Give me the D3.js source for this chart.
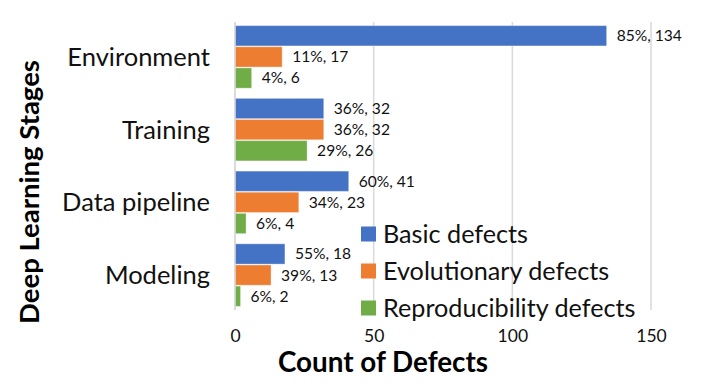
<!DOCTYPE html>
<html>
<head>
<meta charset="utf-8">
<script src="https://cdn.jsdelivr.net/npm/d3@7"></script>
<style>
  html, body { margin: 0; padding: 0; background: #fff; }
  svg { display: block; font-family: Lato, "Open Sans", sans-serif; }
</style>
</head>
<body>
<svg id="chart" width="706" height="391"></svg>
<script>
const categories = ["Environment", "Training", "Data pipeline", "Modeling"];
const seriesNames = ["Basic defects", "Evolutionary defects", "Reproducibility defects"];
const basicValues = [134, 32, 41, 18];
const evolutionaryValues = [17, 32, 23, 13];
const reproducibilityValues = [6, 26, 4, 2];
const basicPercents = ["85%", "36%", "60%", "55%"];
const evolutionaryPercents = ["11%", "36%", "34%", "39%"];
const reproducibilityPercents = ["4%", "29%", "6%", "6%"];
const xTicks = [0, 50, 100, 150];
const colors = ["#4472C4", "#ED7D31", "#70AD47"];

const values = [basicValues, evolutionaryValues, reproducibilityValues];
const percents = [basicPercents, evolutionaryPercents, reproducibilityPercents];

const svg = d3.select("#chart");
const plot = { left: 235, right: 651, top: 22, bottom: 310 };

const x = d3.scaleLinear().domain([0, 150]).range([plot.left, plot.right]);
const y = d3.scaleBand().domain(categories).range([plot.top, plot.bottom])
  .paddingInner(0.14).paddingOuter(0.05);
const ySub = d3.scaleBand().domain(d3.range(3)).range([0, y.bandwidth()]).paddingInner(0.04);

// gridlines
svg.append("g").selectAll("line").data(xTicks).join("line")
  .attr("x1", d => x(d)).attr("x2", d => x(d))
  .attr("y1", plot.top).attr("y2", plot.bottom)
  .attr("stroke", "#d9d9d9").attr("stroke-width", 1.5);

// bars
const groups = svg.append("g").selectAll("g").data(categories).join("g")
  .attr("transform", c => `translate(0,${y(c)})`);

groups.each(function(c, i) {
  const g = d3.select(this);
  for (let s = 0; s < 3; s++) {
    const v = values[s][i];
    g.append("rect")
      .attr("x", x(0))
      .attr("y", ySub(s))
      .attr("width", x(v) - x(0))
      .attr("height", ySub.bandwidth())
      .attr("fill", colors[s])
      .attr("stroke", "#ffffff").attr("stroke-opacity", 0.35).attr("stroke-width", 1);
    g.append("text")
      .attr("x", x(v) + 10)
      .attr("y", ySub(s) + ySub.bandwidth() / 2)
      .attr("dy", "0.35em")
      .attr("font-size", 15.6)
      .attr("fill", "#111")
      .text(`${percents[s][i]}, ${v}`);
  }
});

// y axis line
svg.append("line").attr("x1", x(0)).attr("x2", x(0))
  .attr("y1", plot.top).attr("y2", plot.bottom)
  .attr("stroke", "#d9d9d9").attr("stroke-width", 1.5);

// category labels
const yAxis = d3.axisLeft(y).tickSize(0).tickPadding(0);
const yg = svg.append("g").attr("transform", `translate(${210},0)`).call(yAxis);
yg.select(".domain").remove();
yg.selectAll("text").attr("font-size", 25.5).attr("font-family", "Lato, sans-serif").attr("fill", "#111")
  .attr("dy", "0.35em");

// x tick labels
const xAxis = d3.axisBottom(x).tickValues(xTicks).tickSize(0).tickPadding(0);
const xg = svg.append("g").attr("transform", `translate(0,${330})`).call(xAxis);
xg.select(".domain").remove();
xg.selectAll("text").attr("font-size", 17.5).attr("font-family", "Lato, sans-serif").attr("fill", "#111");

// axis titles
svg.append("text")
  .attr("x", 383).attr("y", 372)
  .attr("text-anchor", "middle")
  .attr("font-size", 27.8).attr("font-weight", "bold").attr("fill", "#000")
  .text("Count of Defects");

svg.append("text")
  .attr("transform", "translate(39,192) rotate(-90)")
  .attr("text-anchor", "middle")
  .attr("font-size", 27.5).attr("font-weight", "bold").attr("fill", "#000")
  .text("Deep Learning Stages");

// legend
const legendY = d3.scalePoint().domain(seriesNames).range([234, 308]);
const lg = svg.append("g").selectAll("g").data(seriesNames).join("g")
  .attr("transform", d => `translate(361,${legendY(d)})`);
lg.append("rect").attr("x", 0).attr("y", -7.5).attr("width", 15).attr("height", 15)
  .attr("fill", (d, i) => colors[i]);
lg.append("text").attr("x", 22).attr("y", 0).attr("dy", "0.35em")
  .attr("font-size", 25.2).attr("fill", "#111").text(d => d);
</script>
</body>
</html>
